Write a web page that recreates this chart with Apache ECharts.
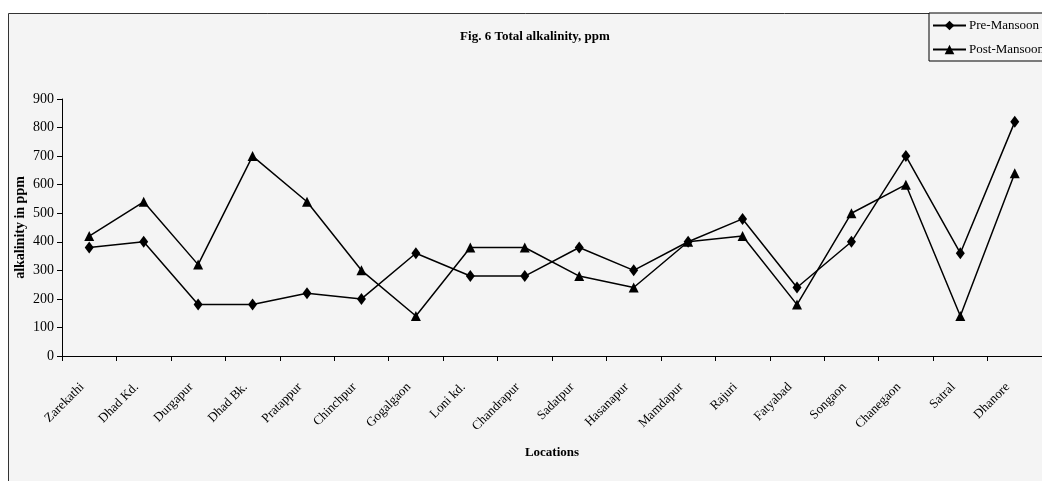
<!DOCTYPE html>
<html><head><meta charset="utf-8">
<script src="https://cdn.jsdelivr.net/npm/echarts@6/dist/echarts.min.js"></script>
<style>html,body{margin:0;padding:0;background:#fff}#c{width:1042px;height:481px}</style>
</head><body><div id="c"></div>
<script>
const categories = ["Zarekathi","Dhad Kd.","Durgapur","Dhad Bk.","Pratappur","Chinchpur","Gogalgaon","Loni kd.","Chandrapur","Sadatpur","Hasanapur","Mamdapur","Rajuri","Fatyabad","Songaon","Chanegaon","Satral","Dhanore"];
const preMansoon = [380,400,180,180,220,200,360,280,280,380,300,400,480,240,400,700,360,820];
const postMansoon = [420,540,320,700,540,300,140,380,380,280,240,400,420,180,500,600,140,640];
const yTicks = {min:0, max:900, interval:100};

const serif = "Liberation Serif";
const chart = echarts.init(document.getElementById('c'));
chart.setOption({
  backgroundColor: '#ffffff',
  animation: false,
  graphic: [{
    type: 'rect', z: -10, silent: true,
    shape: {x: 8.5, y: 13.5, width: 1045, height: 480},
    style: {fill: '#f4f4f4', stroke: '#333', lineWidth: 1}
  }],
  title: {
    text: 'Fig. 6 Total alkalinity, ppm',
    left: 530, top: 25, textAlign: 'center',
    textStyle: {fontFamily: serif, fontWeight: 'bold', fontSize: 13, color: '#000'}
  },
  legend: {
    orient: 'vertical', left: 929, top: 13,
    padding: [6, 10, 5, 3], itemGap: 11,
    itemWidth: 33, itemHeight: 12,
    borderColor: '#000', borderWidth: 1, backgroundColor: '#f4f4f4',
    textStyle: {fontFamily: serif, fontSize: 13, color: '#000', padding: [0,0,0,-2]},
    data: ['Pre-Mansoon', 'Post-Mansoon']
  },
  grid: {left: 62, top: 99, width: 990, height: 257, containLabel: false},
  xAxis: {
    type: 'category', data: categories, boundaryGap: true,
    name: 'Locations', nameLocation: 'middle', nameGap: 90, nameMoveOverlap: false,
    nameTextStyle: {fontFamily: serif, fontWeight: 'bold', fontSize: 13, color: '#000'},
    axisLine: {lineStyle: {color: '#000', width: 1}},
    axisTick: {show: true, alignWithLabel: false, length: 5, lineStyle: {color: '#000'}},
    axisLabel: {rotate: 45, interval: 0, fontFamily: serif, fontSize: 13, color: '#000', margin: 22, padding: [0, 10, 0, 0]}
  },
  yAxis: {
    type: 'value', min: yTicks.min, max: yTicks.max, interval: yTicks.interval,
    name: 'alkalinity in ppm', nameLocation: 'middle', nameGap: 35, nameRotate: 90, nameMoveOverlap: false,
    nameTextStyle: {fontFamily: serif, fontWeight: 'bold', fontSize: 14, color: '#000'},
    axisLine: {show: true, lineStyle: {color: '#000', width: 1}},
    axisTick: {show: true, length: 5, lineStyle: {color: '#000'}},
    splitLine: {show: false},
    axisLabel: {fontFamily: serif, fontSize: 14, color: '#000', margin: 8}
  },
  series: [
    {name: 'Pre-Mansoon', type: 'line', data: preMansoon, symbol: 'diamond', symbolSize: [9, 12],
     lineStyle: {color: '#000', width: 1.5}, itemStyle: {color: '#000'}},
    {name: 'Post-Mansoon', type: 'line', data: postMansoon, symbol: 'triangle', symbolSize: [10, 10],
     lineStyle: {color: '#000', width: 1.5}, itemStyle: {color: '#000'}}
  ]
});
</script></body></html>
